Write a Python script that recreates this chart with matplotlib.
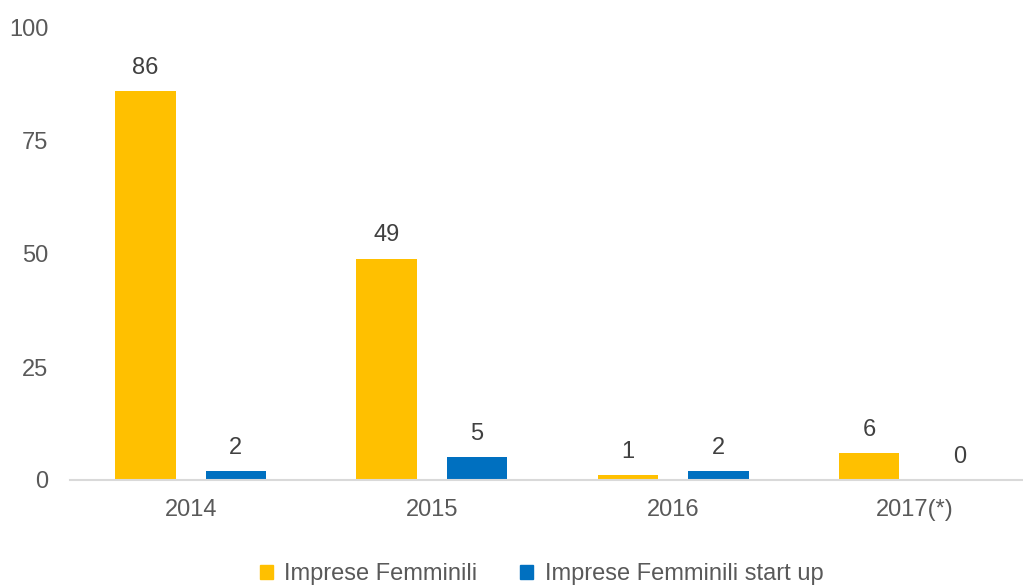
import matplotlib
matplotlib.use("Agg")
import matplotlib.pyplot as plt
from matplotlib.patches import Patch
import numpy as np

categories = ["2014", "2015", "2016", "2017(*)"]
femminili = [86, 49, 1, 6]
startup = [2, 5, 2, 0]
series_names = ["Imprese Femminili", "Imprese Femminili start up"]
yticks = [0, 25, 50, 75, 100]

orange = "#FFC000"
blue = "#0070C0"
txt = "#595959"
lbl = "#404040"

plt.rcParams['font.family'] = ['Liberation Sans', 'DejaVu Sans']
fs = 17

fig = plt.figure(figsize=(10.23, 5.85), dpi=100)
W, H = 1023, 585
ax = fig.add_axes([70 / W, (H - 480) / H, 965 / W, 452 / H])

x = np.arange(len(categories))
bw = 0.25
off = 0.1875
b1 = ax.bar(x - off, femminili, bw, color=orange)
b2 = ax.bar(x + off, startup, bw, color=blue)

for bars, vals in ((b1, femminili), (b2, startup)):
    for rect, v in zip(bars, vals):
        ax.annotate(str(v), (rect.get_x() + rect.get_width() / 2, rect.get_height()),
                    xytext=(0, 16.8), textcoords="offset points",
                    ha="center", va="center", fontsize=fs, color=lbl)

ax.set_xlim(-0.5, len(categories) - 0.5)
ax.set_ylim(0, 100)
ax.set_yticks(yticks)
ax.set_xticks(x)
ax.set_xticklabels(categories)
ax.tick_params(axis='both', length=0, labelsize=fs, colors=txt)
ax.tick_params(axis='x', pad=14)
ax.tick_params(axis='y', pad=15.5)
for s in ("left", "right", "top"):
    ax.spines[s].set_visible(False)
ax.spines["bottom"].set_color("#d9d9d9")
ax.spines["bottom"].set_linewidth(1.5)

handles = [Patch(color=orange), Patch(color=blue)]
leg = fig.legend(handles, series_names, loc="center", bbox_to_anchor=(541.5 / W, 11 / H),
                 ncol=2, frameon=False, fontsize=fs, handlelength=0.55, handleheight=0.55,
                 handletextpad=0.5, columnspacing=1.8, borderpad=0)
for t in leg.get_texts():
    t.set_color(txt)

fig.savefig("out.png", dpi=100)
